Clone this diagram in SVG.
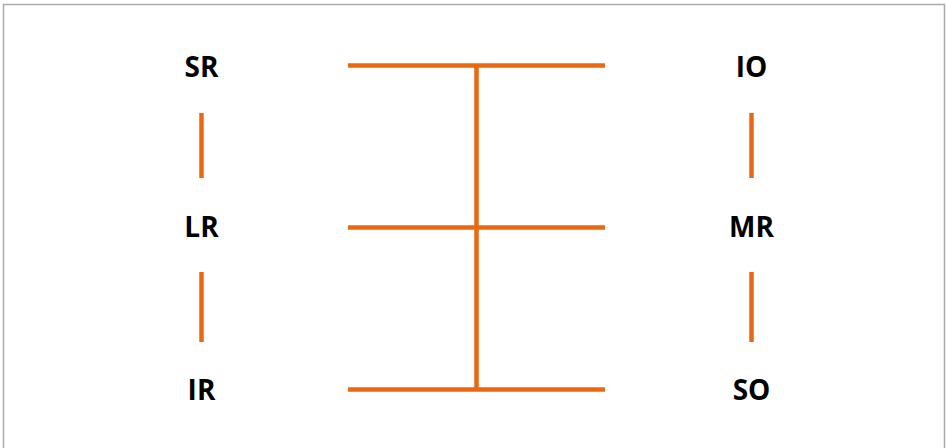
<svg xmlns="http://www.w3.org/2000/svg" width="946" height="448" viewBox="0 0 946 448">
<style>
.lbl{font-family:"Open Sans","Liberation Sans",sans-serif;font-weight:bold;font-size:28px;fill:#000;text-anchor:middle}
.ln{stroke:#EA680F;stroke-width:4.5;fill:none}
</style>
<rect x="0" y="0" width="946" height="448" fill="#fff"/>
<rect x="3.5" y="4.5" width="941" height="450" fill="none" stroke="#aaa" stroke-width="1.5"/>
<g id="connectors">
<line class="ln" x1="348" y1="65.5" x2="605" y2="65.5"/>
<line class="ln" x1="348" y1="227.5" x2="605" y2="227.5"/>
<line class="ln" x1="348" y1="389.5" x2="605" y2="389.5"/>
<line class="ln" x1="476.5" y1="65.5" x2="476.5" y2="389.5"/>
<line class="ln" x1="201.5" y1="113" x2="201.5" y2="178"/>
<line class="ln" x1="201.5" y1="272" x2="201.5" y2="342"/>
<line class="ln" x1="751.5" y1="113" x2="751.5" y2="178"/>
<line class="ln" x1="751.5" y1="272" x2="751.5" y2="342"/>
</g>
<g id="SR"><text class="lbl" x="201.5" y="77">SR</text></g>
<g id="LR"><text class="lbl" x="201.5" y="237">LR</text></g>
<g id="IR"><text class="lbl" x="201.5" y="400">IR</text></g>
<g id="IO"><text class="lbl" x="751.5" y="77">IO</text></g>
<g id="MR"><text class="lbl" x="751.5" y="237">MR</text></g>
<g id="SO"><text class="lbl" x="751.5" y="400">SO</text></g>
</svg>
